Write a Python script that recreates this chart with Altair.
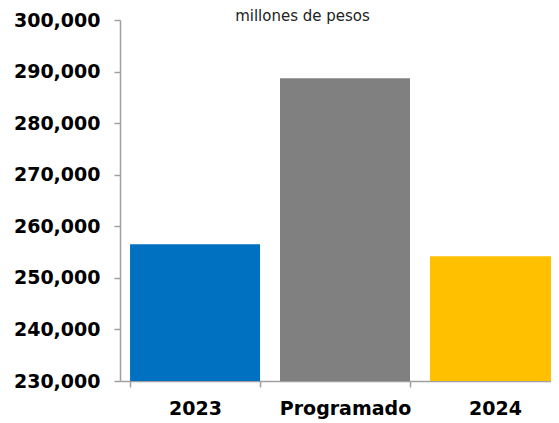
import altair as alt
import pandas as pd

categories = ["2023", "Programado", "2024"]
values = [256500, 288700, 254200]
colors = ["#0070C0", "#808080", "#FFC000"]
y_ticks = [230000, 240000, 250000, 260000, 270000, 280000, 290000, 300000]
subtitle = "millones de pesos"

df = pd.DataFrame({"cat": categories, "val": values, "color": colors})

axis_color = "#A0A0A0"

chart = alt.Chart(df).mark_bar().encode(
    x=alt.X("cat:N", sort=categories, title=None,
            scale=alt.Scale(paddingInner=0.133, paddingOuter=0.067, range=[0, 450]),
            axis=alt.Axis(tickBand="extent", labelAngle=0,
                          labelFont="DejaVu Sans", labelFontWeight="bold",
                          labelFontSize=19, labelColor="#000000",
                          labelPadding=12, domainColor=axis_color,
                          domainWidth=1.5, tickColor=axis_color,
                          tickWidth=1.5, tickSize=6)),
    y=alt.Y("val:Q", title=subtitle,
            scale=alt.Scale(domain=[230000, 300000], zero=False, clamp=True, nice=False),
            axis=alt.Axis(values=y_ticks, format=",d", grid=False,
                          labelFont="DejaVu Sans", labelFontWeight="bold",
                          labelFontSize=19, labelColor="#000000",
                          labelPadding=14, domainColor=axis_color,
                          domainWidth=1.5, tickColor=axis_color,
                          tickWidth=1.5, tickSize=6,
                          titleAngle=0, titleX=182, titleY=-12,
                          titleAlign="center", titleBaseline="top",
                          titleFont="DejaVu Sans", titleFontSize=15,
                          titleFontWeight="normal", titleColor="#222222")),
    color=alt.Color("color:N", scale=None),
).properties(
    width=431,
    height=361,
    padding={"left": 112, "top": 12, "right": 0, "bottom": 42},
    autosize=alt.AutoSizeParams(type="none"),
).configure_view(stroke=None)

chart.save("out.html", embed_options={"renderer": "svg", "actions": False})
